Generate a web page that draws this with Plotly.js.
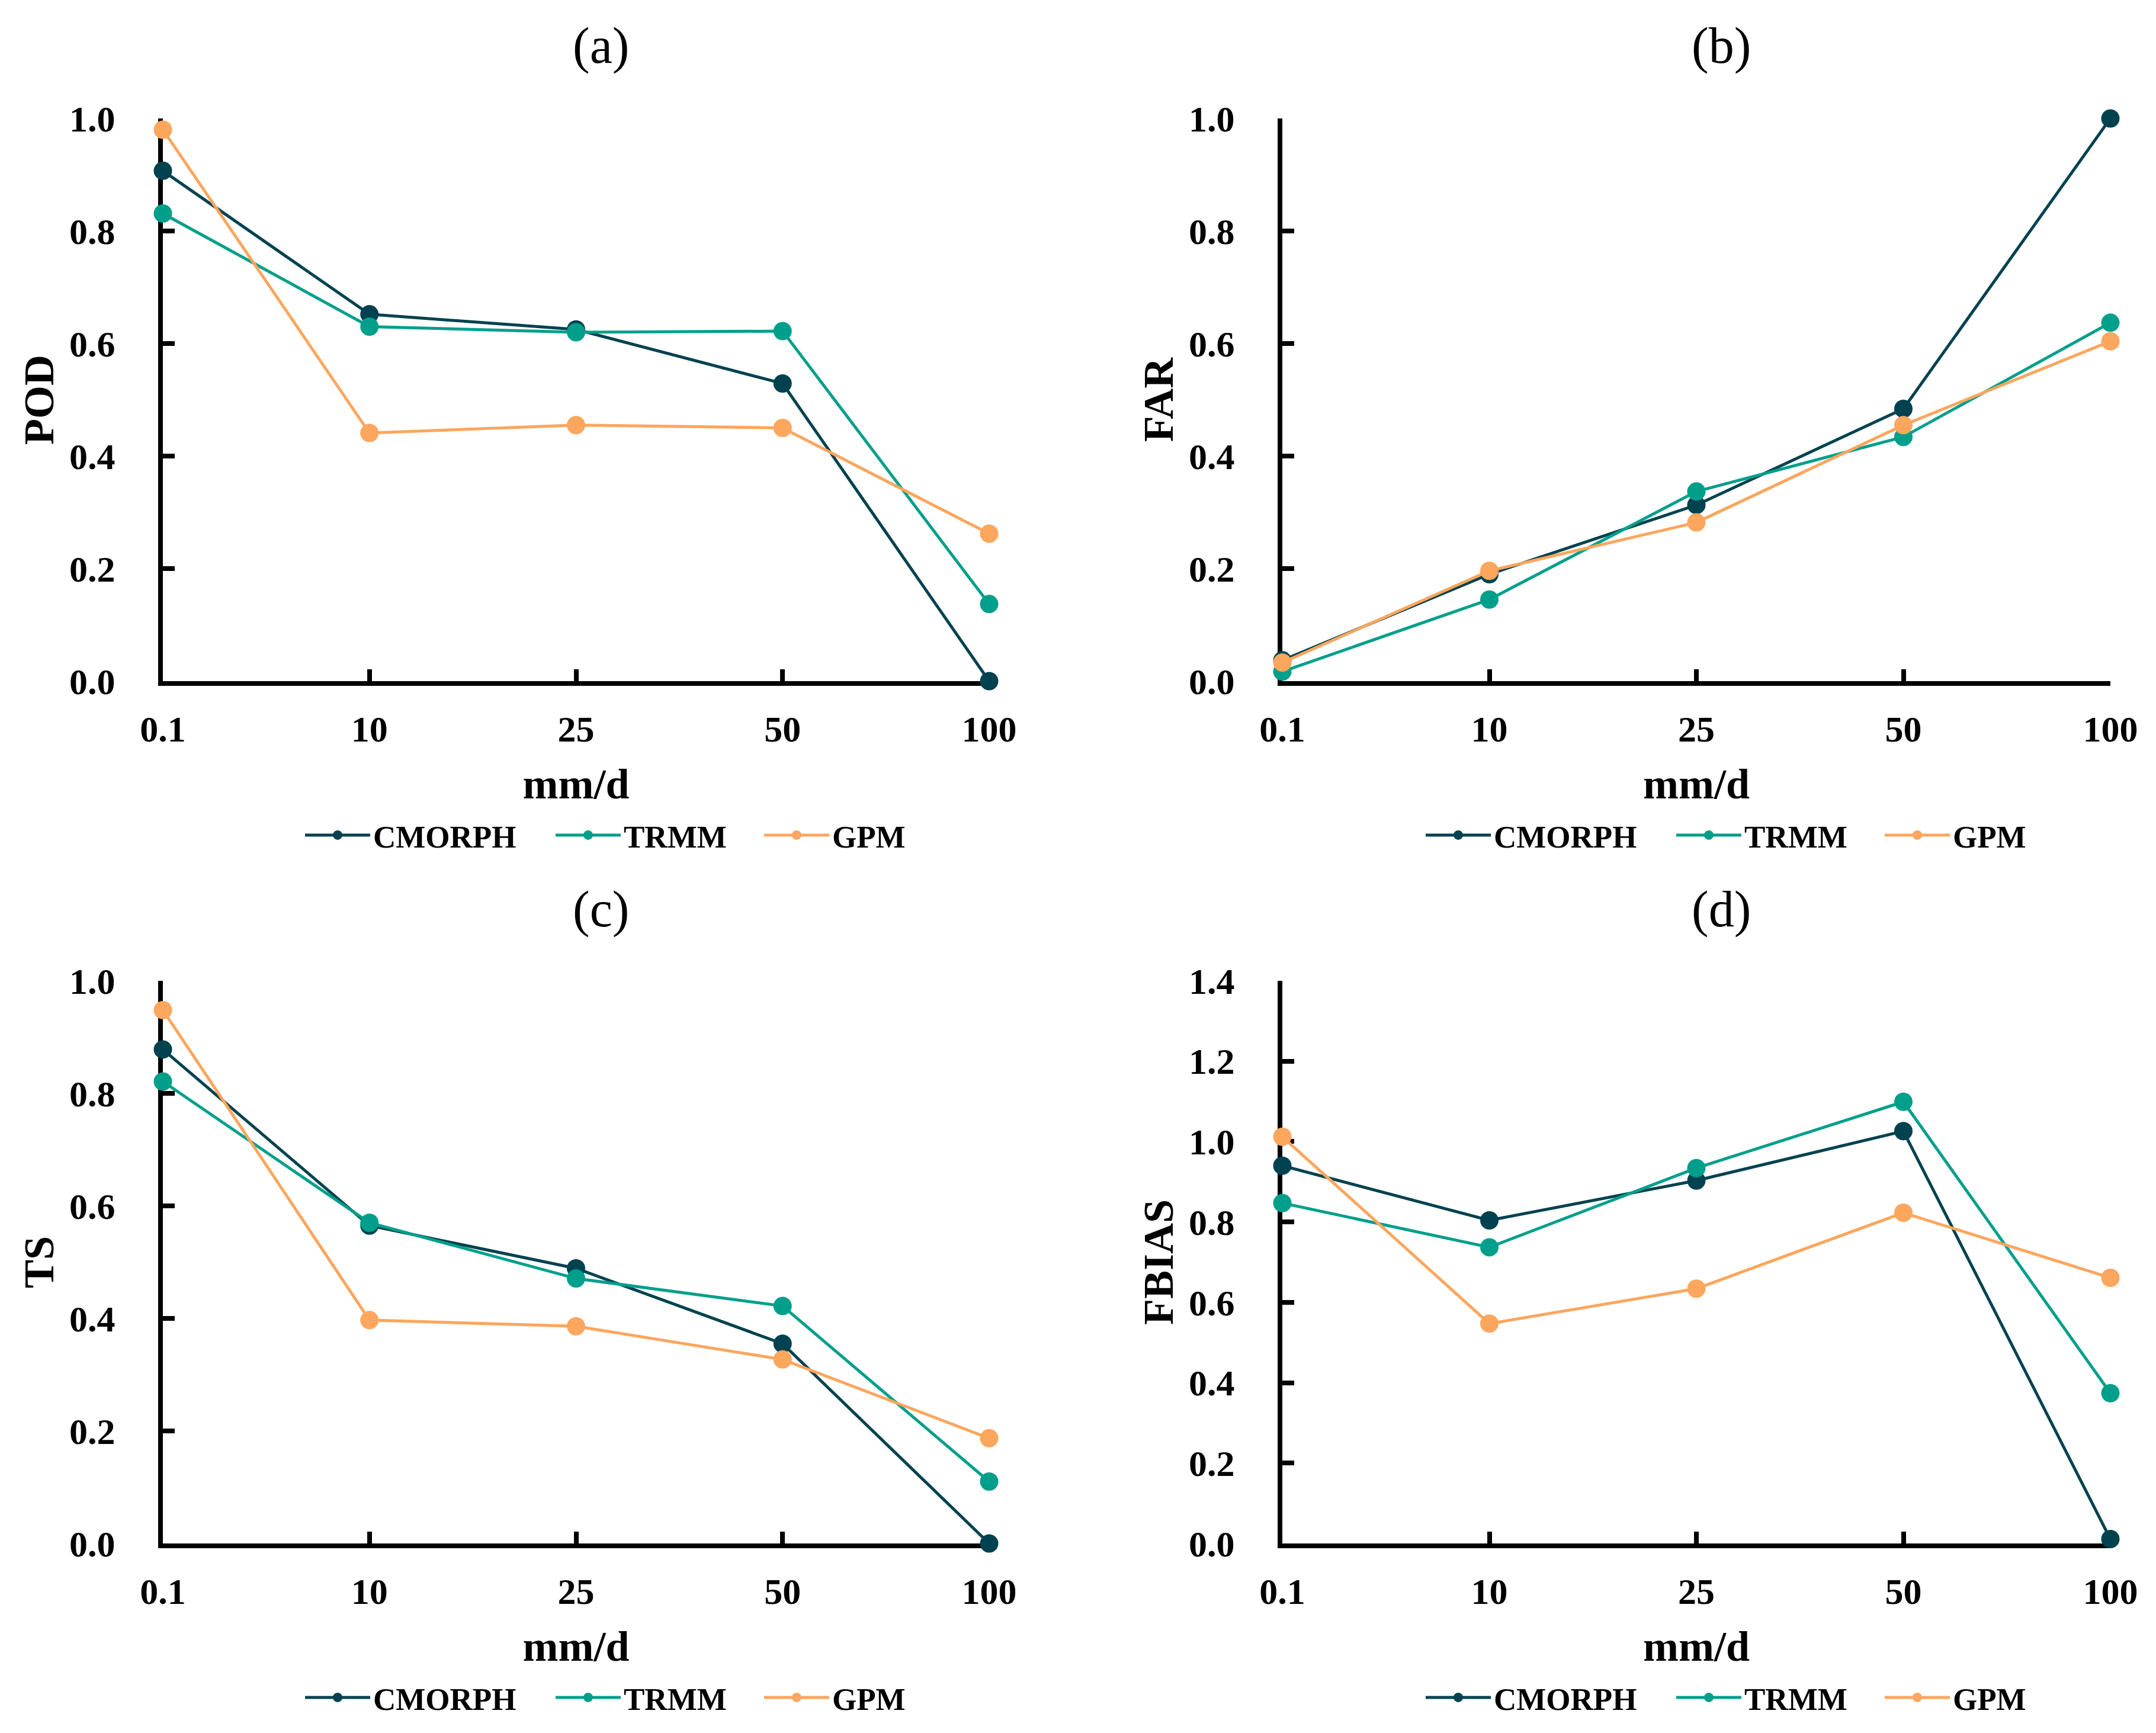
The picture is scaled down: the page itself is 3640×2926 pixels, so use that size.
<!DOCTYPE html>
<html>
<head>
<meta charset="utf-8">
<script src="https://cdn.plot.ly/plotly-3.0.1.min.js"></script>
<style>html,body{margin:0;padding:0;background:#fff;}</style>
</head>
<body>
<div id="chart" style="width:3640px;height:2926px;"></div>
<script>
// ---- data ----
const thresholds = ['0.1', '10', '25', '50', '100'];
const seriesNames = ['CMORPH', 'TRMM', 'GPM'];
const seriesColors = ['#00424f', '#009f8b', '#fda65d'];

const POD_CMORPH = [0.907, 0.652, 0.625, 0.529, 0.0];
const POD_TRMM   = [0.831, 0.630, 0.620, 0.622, 0.137];
const POD_GPM    = [0.980, 0.441, 0.455, 0.450, 0.262];

const FAR_CMORPH = [0.037, 0.190, 0.313, 0.484, 1.0];
const FAR_TRMM   = [0.017, 0.145, 0.337, 0.434, 0.637];
const FAR_GPM    = [0.033, 0.196, 0.282, 0.455, 0.604];

const TS_CMORPH  = [0.878, 0.565, 0.489, 0.355, 0.0];
const TS_TRMM    = [0.821, 0.570, 0.471, 0.422, 0.110];
const TS_GPM     = [0.948, 0.397, 0.386, 0.327, 0.187];

const FBIAS_CMORPH = [0.940, 0.804, 0.903, 1.026, 0.011];
const FBIAS_TRMM   = [0.847, 0.737, 0.934, 1.099, 0.374];
const FBIAS_GPM    = [1.012, 0.547, 0.634, 0.823, 0.661];

const panelLabels = ['(a)', '(b)', '(c)', '(d)'];
const yTitles = ['POD', 'FAR', 'TS', 'FBIAS'];
const xTitle = 'mm/d';
const yMax = [1.0, 1.0, 1.0, 1.4];

const panels = [
  [POD_CMORPH, POD_TRMM, POD_GPM],
  [FAR_CMORPH, FAR_TRMM, FAR_GPM],
  [TS_CMORPH, TS_TRMM, TS_GPM],
  [FBIAS_CMORPH, FBIAS_TRMM, FBIAS_GPM]
];

// ---- layout geometry ----
const W = 3640, H = 2926;
const FONT = '"Liberation Serif", "Times New Roman", serif';
const xDomains = [[275 / W, 1670 / W], [2165 / W, 3563 / W]];
const yDomains = [[1 - 1150 / H, 1 - 200 / H], [1 - 2606 / H, 1 - 1656 / H]];
// legend entry left edges (px) for left-column panels; right column shifted
const legendItemX = [518, 941, 1293];
const legendColShift = 1892;

const traces = [];
const layout = {
  width: W, height: H,
  margin: {l: 0, r: 0, t: 0, b: 0},
  paper_bgcolor: '#ffffff',
  plot_bgcolor: '#ffffff',
  font: {family: FONT, color: '#000000'},
  showlegend: true,
  annotations: []
};

let legendCount = 0;
panels.forEach((series, p) => {
  const col = p % 2, row = Math.floor(p / 2);
  const ax = p === 0 ? '' : String(p + 1);
  series.forEach((vals, s) => {
    legendCount += 1;
    const legendId = legendCount === 1 ? 'legend' : 'legend' + legendCount;
    traces.push({
      type: 'scatter', mode: 'lines+markers',
      x: thresholds, y: vals,
      name: seriesNames[s],
      xaxis: 'x' + ax, yaxis: 'y' + ax,
      legend: legendId,
      cliponaxis: false,
      line: {color: seriesColors[s], width: 5},
      marker: {color: seriesColors[s], size: 31, symbol: 'circle'}
    });
    const lx = legendItemX[s] + (col === 1 ? legendColShift : 0);
    const ly = row === 0 ? 1410 : 2866;
    layout[legendId] = {
      orientation: 'h',
      x: (lx - 8) / W, xanchor: 'left',
      y: 1 - ly / H, yanchor: 'middle',
      font: {family: FONT, size: 53, weight: 700, color: '#000'},
      bgcolor: 'rgba(0,0,0,0)',
      itemwidth: 110
    };
  });

  layout['xaxis' + ax] = {
    domain: xDomains[col],
    anchor: 'y' + ax,
    type: 'category',
    categoryorder: 'array', categoryarray: thresholds,
    range: [0, 4],
    showgrid: false, zeroline: false,
    showline: true, linecolor: '#000', linewidth: 8,
    ticks: 'inside', ticklen: 20, tickwidth: 8, tickcolor: '#000',
    tickfont: {family: FONT, size: 62, weight: 700, color: '#000'},
    ticklabelstandoff: 20,
    layer: 'below traces',
    title: {text: xTitle, font: {family: FONT, size: 72, weight: 700, color: '#000'}, standoff: 36},
    fixedrange: true
  };
  layout['yaxis' + ax] = {
    domain: yDomains[row],
    anchor: 'x' + ax,
    range: [0, yMax[p]],
    dtick: 0.2, tick0: 0,
    tickformat: '.1f',
    showgrid: false, zeroline: false,
    showline: true, linecolor: '#000', linewidth: 8,
    ticks: 'inside', ticklen: 20, tickwidth: 8, tickcolor: '#000',
    tickfont: {family: FONT, size: 62, weight: 700, color: '#000'},
    ticklabelstandoff: 60,
    layer: 'below traces',
    title: {text: yTitles[p], font: {family: FONT, size: 72, weight: 700, color: '#000'}, standoff: 6},
    fixedrange: true
  };

  const titleX = col === 0 ? 1014 : 2906;
  const titleY = row === 0 ? 77 : 1535;
  layout.annotations.push({
    text: panelLabels[p], showarrow: false,
    xref: 'paper', yref: 'paper',
    x: titleX / W, y: 1 - titleY / H,
    xanchor: 'center', yanchor: 'middle',
    font: {family: FONT, size: 86, color: '#000'}
  });
});

Plotly.newPlot('chart', traces, layout, {staticPlot: true, displayModeBar: false});
</script>
</body>
</html>
